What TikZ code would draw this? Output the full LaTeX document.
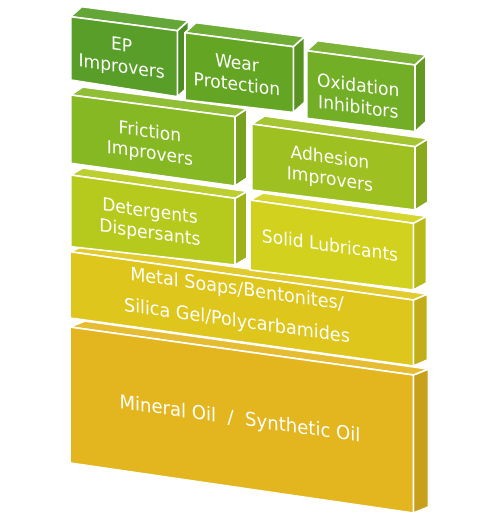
\documentclass[tikz,border=0pt]{standalone}
\usepackage{fontspec}
\setmainfont{DejaVu Sans}[FakeStretch=0.95]
\usetikzlibrary{calc}
\definecolor{cEP}{RGB}{88,158,40}
\definecolor{cWear}{RGB}{100,166,36}
\definecolor{cOx}{RGB}{114,174,38}
\definecolor{cFric}{RGB}{134,184,36}
\definecolor{cAdh}{RGB}{158,192,32}
\definecolor{cDet}{RGB}{182,202,30}
\definecolor{cSolid}{RGB}{210,210,30}
\definecolor{cMetal}{RGB}{222,198,28}
\definecolor{cMin}{RGB}{227,182,32}
\tikzset{
  face/.style={draw=white, line width=1.6pt, line join=round},
  lbl/.style={text=white, align=center, transform shape, inner sep=0pt,
    font=\fontsize{18}{21.5}\selectfont},
}
% #1 colour, #2 TL, #3 TR, #4 BR, #5 BL, #6 dx, #7 dy
\newcommand\slab[7]{%
  \filldraw[face, fill=#1!88!black] (#3) -- ++(#6,#7) -- ($(#4)+(#6,#7)$) -- (#4) -- cycle;
  \filldraw[face, fill=#1!92!white] (#2) -- ++(#6,#7) -- ($(#3)+(#6,#7)$) -- (#3) -- cycle;
  \filldraw[face, fill=#1] (#2) -- (#3) -- (#4) -- (#5) -- cycle;
}
% #1 name, #2 centre, #3 slant, #4 extra options, #5 text
\newcommand\lab[5]{%
  \begin{scope}[shift={(#2)}, yslant=#3]
    \node[lbl, #4] (#1) at (0,0) {#5};
  \end{scope}
}
\begin{document}
\begin{tikzpicture}[x=1pt, y=-1pt]
\useasboundingbox (0,0) rectangle (480,524);
% bottom to top
\slab{cMin}{70,327}{413.3,375}{413.3,513}{70,463}{15}{-6}
\slab{cMetal}{70,251.7}{413.3,300}{413.3,366}{70,318}{14}{-6}
\slab{cDet}{70.7,175}{235,198.3}{235,265}{70.7,246.7}{12}{-7}
\slab{cSolid}{250,200}{413.3,223.3}{413.3,290}{250,270}{13}{-7}
\slab{cFric}{70.7,95}{235,116.7}{235,186}{70.7,163.3}{12}{-8}
\slab{cAdh}{251.7,124}{415,146.7}{415,210}{251.7,190}{13}{-8}
\slab{cEP}{70.7,16.7}{177.3,30.7}{177.3,96.7}{70.7,80}{11}{-10}
\slab{cWear}{185,32.7}{293.3,46.7}{293.3,112.5}{185,100}{11}{-10}
\slab{cOx}{306.7,50.7}{415,65}{415,131.7}{306.7,118.3}{11}{-10}
% labels
\lab{ep}{121.7,57.5}{-0.14}{}{EP\\Improvers}
\lab{wear}{237,73.5}{-0.13}{}{Wear\\Protection}
\lab{ox}{358.3,96}{-0.13}{}{Oxidation\\Inhibitors}
\lab{fric}{150,143.5}{-0.14}{}{Friction\\Improvers}
\lab{adh}{330,169.5}{-0.14}{}{Adhesion\\Improvers}
\lab{det}{150,223.5}{-0.14}{}{Detergents\\Dispersants}
\lab{solid}{330,245}{-0.14}{}{Solid Lubricants}
\lab{metal}{237,306}{-0.14}{font=\fontsize{18.5}{32}\selectfont}{Metal Soaps/Bentonites/\\Silica Gel/Polycarbamides}
\lab{min}{240,420}{-0.14}{font=\fontsize{19}{22}\selectfont}{Mineral Oil~~/~~Synthetic Oil}
\end{tikzpicture}
\end{document}
